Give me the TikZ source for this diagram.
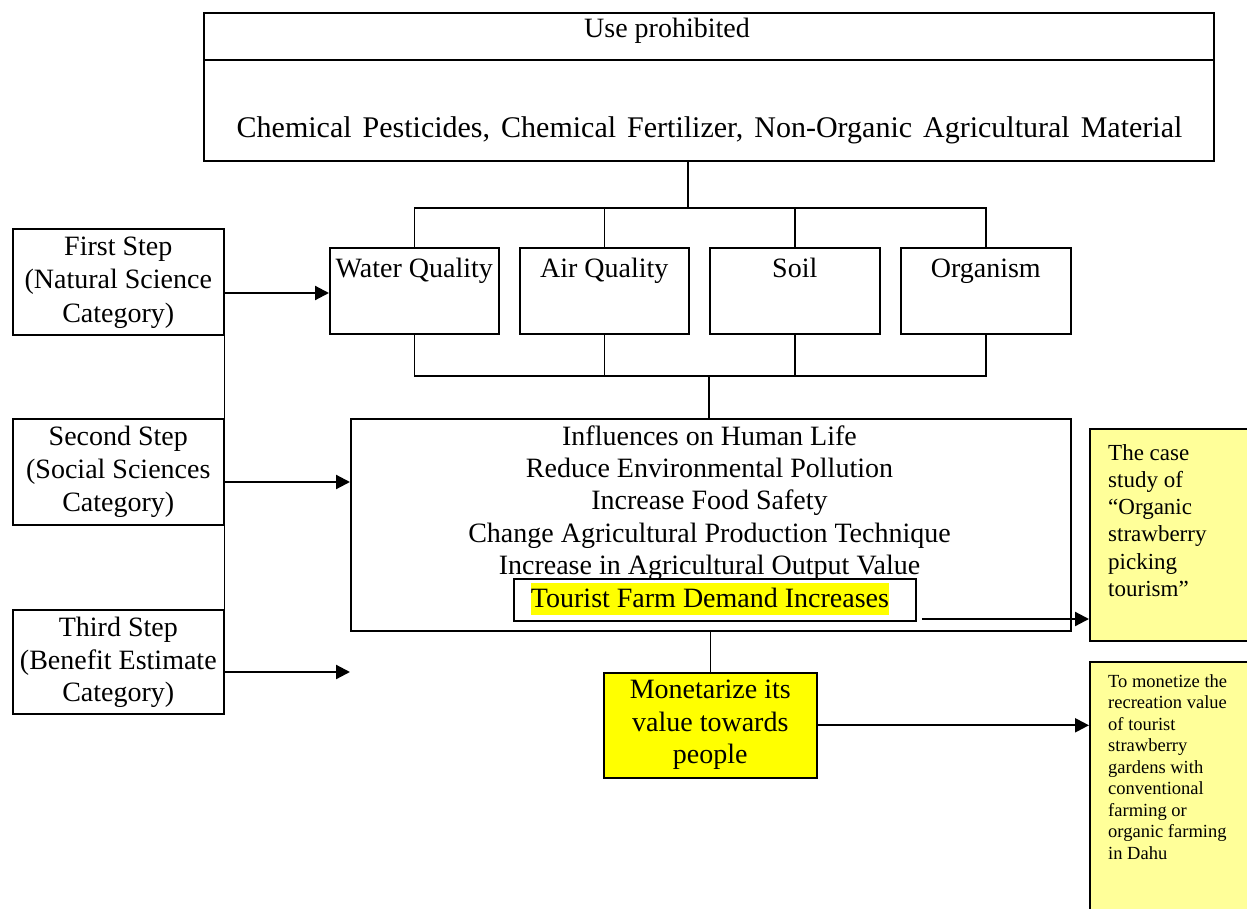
\documentclass[tikz,border=0pt]{standalone}
\usepackage{fontspec}
\setmainfont{Liberation Serif}
\usetikzlibrary{arrows.meta}
\definecolor{hl}{RGB}{255,255,0}
\definecolor{pale}{RGB}{255,255,153}
\tikzset{
  box/.style={draw, line width=1.6pt, inner sep=0pt, anchor=north west},
  big/.style={font=\fontsize{28}{32}\selectfont, inner sep=0pt},
  mid23/.style={font=\fontsize{23}{27}\selectfont, inner sep=0pt, anchor=base west},
  sm18/.style={font=\fontsize{18.5}{21.5}\selectfont, inner sep=0pt, anchor=base west},
  conn/.style={line width=1.6pt},
  arr/.style={line width=2.2pt, -{Triangle[length=14pt,width=14pt]}}
}
\begin{document}
\begin{tikzpicture}[x=1pt,y=-1pt]
\clip (0,0) rectangle (1247,909);
\useasboundingbox (0,0) rectangle (1247,909);
\fill[white] (0,0) rectangle (1247,909);

% top box
\node[box, minimum width=1010pt, minimum height=148pt] (top) at (203,12) {};
\draw[conn] ([yshift=-48pt]top.north west) -- ([yshift=-48pt]top.north east);
\node[big, anchor=base] (usep) at (667,38) {Use prohibited};
\node[big, anchor=base, font=\fontsize{30}{32}\selectfont] (chem) at (709.5,138) {\spaceskip=11pt plus 1pt Chemical Pesticides, Chemical Fertilizer, Non-Organic Agricultural Material};

% four boxes
\node[box, minimum width=169pt, minimum height=86pt] (wq) at (329,247) {};
\node[box, minimum width=169pt, minimum height=86pt] (aq) at (519,247) {};
\node[box, minimum width=170pt, minimum height=86pt] (soil) at (709,247) {};
\node[box, minimum width=170pt, minimum height=86pt] (org) at (900,247) {};
\node[big, anchor=base] at (wq.center |- 0,277) {Water Quality};
\node[big, anchor=base] at (aq.center |- 0,277) {Air Quality};
\node[big, anchor=base] at (soil.center |- 0,277) {Soil};
\node[big, anchor=base] at (org.center |- 0,277) {Organism};

% top bus
\coordinate (bus1) at (688,208);
\draw[conn] (top.south -| bus1) -- (bus1);
\draw[conn] (wq.north) -- (wq.north |- bus1) -- (org.north |- bus1) -- (org.north);
\draw[conn] (aq.north) -- (aq.north |- bus1);
\draw[conn] (soil.north) -- (soil.north |- bus1);

% middle box
\node[box, minimum width=720pt, minimum height=212pt] (mid) at (350,418) {};

% bottom bus
\coordinate (bus2) at (709,376);
\draw[conn] (wq.south) -- (wq.south |- bus2) -- (org.south |- bus2) -- (org.south);
\draw[conn] (aq.south) -- (aq.south |- bus2);
\draw[conn] (soil.south) -- (soil.south |- bus2);
\draw[conn] (bus2) -- (bus2 |- mid.north);

\node[big, anchor=base] at (709.5,445) {Influences on Human Life};
\node[big, anchor=base] at (709.5,477) {Reduce Environmental Pollution};
\node[big, anchor=base] at (709.5,509) {Increase Food Safety};
\node[big, anchor=base] at (709.5,542) {Change Agricultural Production Technique};
\node[big, anchor=base] at (709.5,574) {Increase in Agricultural Output Value};

\node[draw, line width=1.6pt, minimum width=402pt, minimum height=42pt, inner sep=0pt] (tfd) at (715,600) {};
\node[big, anchor=base, fill=hl, text height=24pt, text depth=8pt] at (710,607) {Tourist Farm Demand Increases};

% monetarize
\node[box, fill=hl, minimum width=213pt, minimum height=105pt] (mon) at (603,672) {};
\node[big, anchor=base] at (mon.center |- 0,698) {Monetarize its};
\node[big, anchor=base] at (mon.center |- 0,731) {value towards};
\node[big, anchor=base] at (mon.center |- 0,763) {people};
\draw[conn] (mon.north |- mid.south) -- (mon.north);

% left step boxes
\node[box, minimum width=211pt, minimum height=106pt] (fs) at (12,228) {};
\node[box, minimum width=211pt, minimum height=106pt] (ss) at (12,418) {};
\node[box, minimum width=211pt, minimum height=104pt] (ts) at (12,609) {};
\node[big, anchor=base] at (fs.center |- 0,256) {First Step};
\node[big, anchor=base] at (fs.center |- 0,289) {(Natural Science};
\node[big, anchor=base] at (fs.center |- 0,322) {Category)};
\node[big, anchor=base] at (ss.center |- 0,445) {Second Step};
\node[big, anchor=base] at (ss.center |- 0,478) {(Social Sciences};
\node[big, anchor=base] at (ss.center |- 0,511) {Category)};
\node[big, anchor=base] at (ts.center |- 0,636) {Third Step};
\node[big, anchor=base] at (ts.center |- 0,669) {(Benefit Estimate};
\node[big, anchor=base] at (ts.center |- 0,701) {Category)};
\draw[conn] (fs.south east) -- (ss.north east);
\draw[conn] (ss.south east) -- (ts.north east);

% right boxes
\node[box, fill=pale, minimum width=180pt, minimum height=212pt] (cs) at (1089,428) {};
\node[box, fill=pale, minimum width=180pt, minimum height=270pt] (rb) at (1089,661) {};
\node[mid23] at (1108,460) {The case};
\node[mid23] at (1108,487) {study of};
\node[mid23] at (1108,514) {“Organic};
\node[mid23] at (1108,541) {strawberry};
\node[mid23] at (1108,569) {picking};
\node[mid23] at (1108,596) {tourism”};
\node[sm18] at (1108,687) {To monetize the};
\node[sm18] at (1108,708.5) {recreation value};
\node[sm18] at (1108,730) {of tourist};
\node[sm18] at (1108,751.5) {strawberry};
\node[sm18] at (1108,773) {gardens with};
\node[sm18] at (1108,794.5) {conventional};
\node[sm18] at (1108,816) {farming or};
\node[sm18] at (1108,837.5) {organic farming};
\node[sm18] at (1108,859) {in Dahu};

% arrows
\coordinate (t3) at (350,672);
\draw[arr] (fs.east |- 0,293) -- (wq.west |- 0,293);
\draw[arr] (ss.east |- 0,482) -- (mid.west |- 0,482);
\draw[arr] (ts.east |- t3) -- (t3);
\draw[arr] ([xshift=5pt]tfd.east |- 0,619) -- (cs.west |- 0,619);
\draw[arr] (mon.east) -- (rb.west |- mon.east);
\end{tikzpicture}
\end{document}
